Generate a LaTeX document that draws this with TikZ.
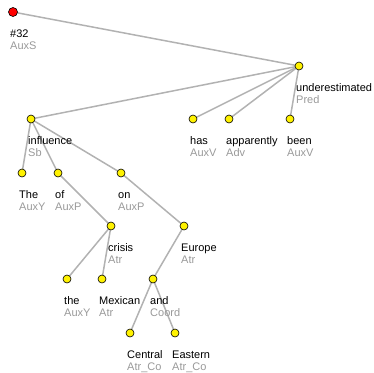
\documentclass[tikz,border=0pt]{standalone}
\usepackage{fontspec}
\setmainfont{Liberation Sans}
\begin{document}
\begin{tikzpicture}[x=1pt,y=-1pt,
  tnode/.style={circle,draw=black,line width=0.6pt,fill=yellow,minimum size=8pt,inner sep=0pt},
  rootnode/.style={tnode,fill=red,minimum size=9pt},
  edge/.style={draw=black!30,line width=1.5pt},
  word/.style={anchor=base west,inner sep=0pt,font=\fontsize{11}{12}\selectfont,text=black},
  func/.style={anchor=base west,inner sep=0pt,font=\fontsize{11}{12}\selectfont,text=black!40}]
\useasboundingbox (0,0) rectangle (374,372);
\def\tn#1#2#3#4#5{%
  \node[word] at (#2-3,#3+25) {#4};
  \node[func] at (#2-3,#3+37.5) {#5};}
% coordinates
\coordinate (p32) at (13,12);
\coordinate (pund) at (299,66);
\coordinate (pinf) at (31,119);
\coordinate (pthe1) at (22,173);
\coordinate (pof) at (58,173);
\coordinate (pon) at (121,173);
\coordinate (phas) at (193,119);
\coordinate (papp) at (229,119);
\coordinate (pbeen) at (290,119);
\coordinate (pcri) at (111,226);
\coordinate (peur) at (184,226);
\coordinate (pthe2) at (67,279);
\coordinate (pmex) at (102,279);
\coordinate (pand) at (153,279);
\coordinate (pcen) at (130,333);
\coordinate (peas) at (175,333);
% edges
\draw[edge] (p32) -- (pund);
\draw[edge] (pund) -- (pinf);
\draw[edge] (pund) -- (phas);
\draw[edge] (pund) -- (papp);
\draw[edge] (pund) -- (pbeen);
\draw[edge] (pinf) -- (pthe1);
\draw[edge] (pinf) -- (pof);
\draw[edge] (pinf) -- (pon);
\draw[edge] (pof) -- (pcri);
\draw[edge] (pon) -- (peur);
\draw[edge] (pcri) -- (pthe2);
\draw[edge] (pcri) -- (pmex);
\draw[edge] (peur) -- (pand);
\draw[edge] (pand) -- (pcen);
\draw[edge] (pand) -- (peas);
% nodes
\node[rootnode] (n32) at (p32) {};
\foreach \p in {pund,pinf,pthe1,pof,pon,phas,papp,pbeen,pcri,peur,pthe2,pmex,pand,pcen,peas}
  \node[tnode] (n\p) at (\p) {};
% labels
\node[word] (l32) at (10,37) {\#32};
\node[func] (f32) at (10,49.5) {AuxS};
\tn{und}{299}{66}{underestimated}{Pred}
\tn{inf}{31}{119}{influence}{Sb}
\tn{the1}{22}{173}{The}{AuxY}
\tn{of}{58}{173}{of}{AuxP}
\tn{on}{121}{173}{on}{AuxP}
\tn{has}{193}{119}{has}{AuxV}
\tn{app}{229}{119}{apparently}{Adv}
\tn{been}{290}{119}{been}{AuxV}
\tn{cri}{111}{226}{crisis}{Atr}
\tn{eur}{184}{226}{Europe}{Atr}
\tn{the2}{67}{279}{the}{AuxY}
\tn{mex}{102}{279}{Mexican}{Atr}
\tn{and}{153}{279}{and}{Coord}
\tn{cen}{130}{333}{Central}{Atr\_Co}
\tn{eas}{175}{333}{Eastern}{Atr\_Co}
\end{tikzpicture}
\end{document}
